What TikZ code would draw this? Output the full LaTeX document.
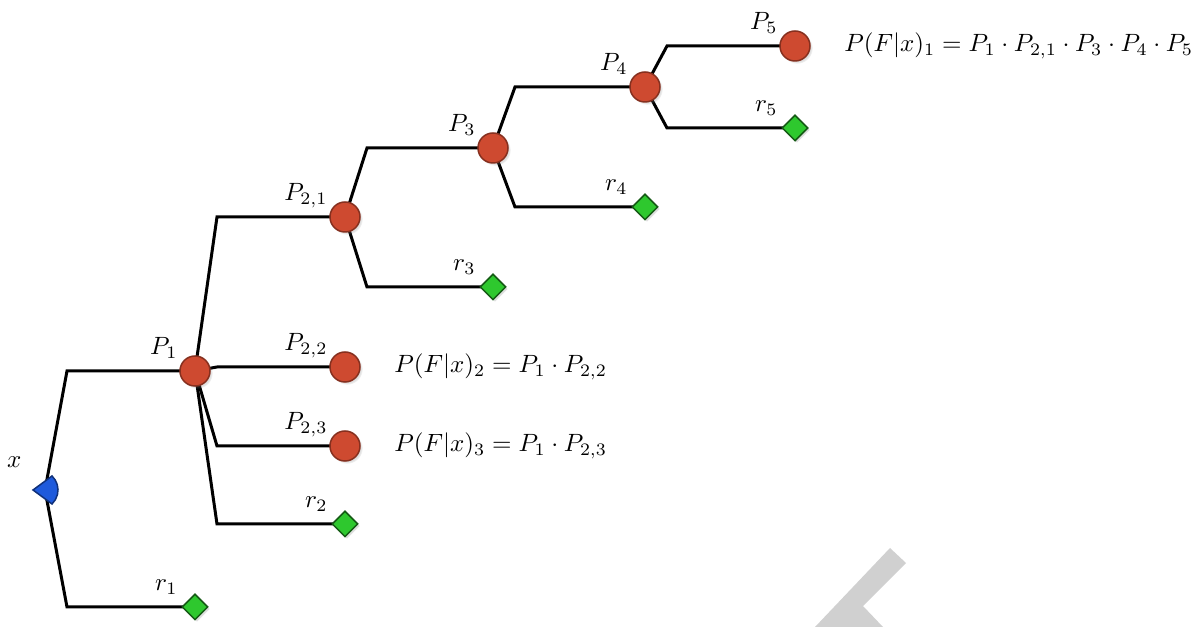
\documentclass[tikz,border=0pt]{standalone}
\usepackage{amsmath}
\usepackage{amssymb}
\usepackage{xcolor}
\usetikzlibrary{positioning,calc,backgrounds,shapes.geometric,shadows}

\definecolor{chancered}{RGB}{206,74,48}
\definecolor{leafgreen}{RGB}{46,200,46}
\definecolor{rootblue}{RGB}{30,90,220}
\definecolor{markgray}{RGB}{208,208,208}

\tikzset{
  chance/.style={circle, fill=chancered, draw=chancered!65!black, line width=0.6pt,
    minimum size=12pt, inner sep=0pt,
    circular drop shadow={opacity=0.25, shadow xshift=0.8pt, shadow yshift=-0.8pt, shadow scale=1.05}},
  leaf/.style={diamond, fill=leafgreen, draw=leafgreen!45!black, line width=0.6pt,
    minimum size=10.4pt, inner sep=0pt,
    drop shadow={opacity=0.25, shadow xshift=0.8pt, shadow yshift=-0.8pt}},
  root/.style={fill=rootblue, draw=rootblue!55!black, line width=0.6pt},
  tag/.style={anchor=base east, inner sep=0pt, xshift=-6.8pt, yshift=6.4pt},
  branch/.style={line width=1.2pt,
    to path={let \p1=(\tikztostart), \p2=(\tikztotarget) in
      -- (\x1+8.8pt,\y2) -- (\tikztotarget)}},
}

\begin{document}
\begin{tikzpicture}[x=0.4pt, y=0.4pt]
        \useasboundingbox (0,0) rectangle (1195,627);

        % Nodes
        \coordinate (x) at (45,137);
        \node[chance] (P1) at (195,256) {};
        \node[leaf] (r1) at (195,20) {};
        \node[chance] (P21) at (345,410) {};
        \node[chance] (P22) at (345,260) {};
        \node[chance] (P23) at (345,181) {};
        \node[leaf] (r2) at (345,103) {};
        \node[chance] (P3) at (493,479) {};
        \node[leaf] (r3) at (493,340) {};
        \node[chance] (P4) at (645,540) {};
        \node[leaf] (r4) at (645,420) {};
        \node[chance] (P5) at (795,581) {};
        \node[leaf] (r5) at (795,499) {};

        % Labels
        \foreach \n/\t in {P1/P_1, r1/r_1, P21/P_{2,1}, P22/P_{2,2}, P23/P_{2,3}, r2/r_2,
                           P3/P_3, r3/r_3, P4/P_4, r4/r_4, P5/P_5, r5/r_5}
            \node[tag] (\n-tag) at (\n) {$\t$};

        % Root
        \filldraw[root] ($(x)+(-12,0)$) -- ($(x)+(7,14)$)
            arc[start angle=46.5, end angle=-46.5, radius=7.72pt] -- cycle;
        \node[anchor=base east, inner sep=0pt] (xlabel) at ($(x)+(-23,22)$) {$x$};

        % Results
        \node (eq1) [right=9.9pt of P5] {$P(F|x)_1 = P_1\cdot P_{2,1}\cdot P_3\cdot P_4\cdot P_5$};
        \node (eq2) [right=9.9pt of P22] {$P(F|x)_2 = P_1\cdot P_{2,2}$};
        \node (eq3) [right=9.9pt of P23] {$P(F|x)_3 = P_1\cdot P_{2,3}$};

        % Branches
        \begin{scope}[on background layer]
            \fill[markgray] (815,0) -- (890,79) -- (906,64) -- (863,21) -- (883,0) -- cycle;
            \foreach \from/\to in {x/P1, x/r1, P1/P21, P1/P22, P1/P23, P1/r2,
                                   P21/P3, P21/r3, P3/P4, P3/r4, P4/P5, P4/r5}
                \draw[branch] (\from.center) to (\to.center);
        \end{scope}
\end{tikzpicture}
\end{document}
